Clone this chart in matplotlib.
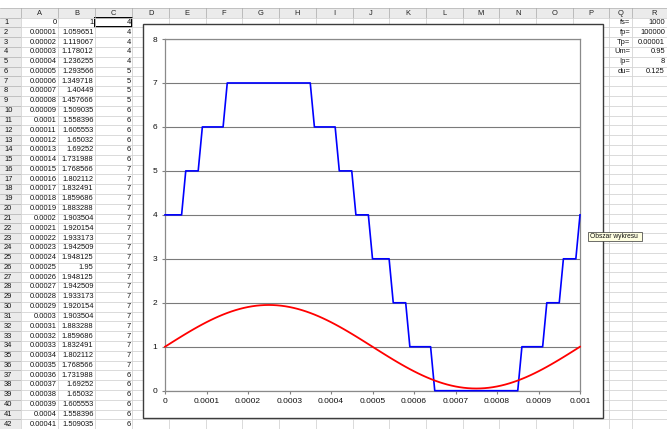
import numpy as np
import matplotlib
matplotlib.use("Agg")
import matplotlib.pyplot as plt
from matplotlib.patches import Rectangle

plt.rcParams['font.family'] = ['Liberation Sans', 'DejaVu Sans']

# column A: time samples, column B: sine signal, column C: quantized level
t = np.round(np.arange(101) * 0.00001, 5)
u = [1, 1.059651, 1.119067, 1.178012, 1.236255, 1.293566, 1.349718, 1.40449, 1.457666, 1.509035,
     1.558396, 1.605553, 1.65032, 1.69252, 1.731988, 1.768566, 1.802112, 1.832491, 1.859686, 1.883288,
     1.903504, 1.920154, 1.933173, 1.942509, 1.948125, 1.95, 1.948125, 1.942509, 1.933173, 1.920154,
     1.903504, 1.883288, 1.859686, 1.832491, 1.802112, 1.768566, 1.731988, 1.69252, 1.65032, 1.605553,
     1.558396, 1.509035, 1.457666, 1.40449, 1.349718, 1.293566, 1.236255, 1.178012, 1.119067, 1.059651,
     1, 0.940349, 0.880933, 0.821988, 0.763745, 0.706434, 0.650282, 0.59551, 0.542334, 0.490965,
     0.441604, 0.394447, 0.34968, 0.30748, 0.268012, 0.231434, 0.197888, 0.167509, 0.140314, 0.116712,
     0.096496, 0.079846, 0.066827, 0.057491, 0.051875, 0.05, 0.051875, 0.057491, 0.066827, 0.079846,
     0.096496, 0.116712, 0.140314, 0.167509, 0.197888, 0.231434, 0.268012, 0.30748, 0.34968, 0.394447,
     0.441604, 0.490965, 0.542334, 0.59551, 0.650282, 0.706434, 0.763745, 0.821988, 0.880933, 0.940349,
     1]
lvl = [4, 4, 4, 4, 4, 5, 5, 5, 5, 6,
       6, 6, 6, 6, 6, 7, 7, 7, 7, 7,
       7, 7, 7, 7, 7, 7, 7, 7, 7, 7,
       7, 7, 7, 7, 7, 7, 6, 6, 6, 6,
       6, 6, 5, 5, 5, 5, 4, 4, 4, 4,
       3, 3, 3, 3, 3, 2, 2, 2, 2, 1,
       1, 1, 1, 1, 1, 0, 0, 0, 0, 0,
       0, 0, 0, 0, 0, 0, 0, 0, 0, 0,
       0, 0, 0, 0, 0, 0, 1, 1, 1, 1,
       1, 1, 2, 2, 2, 2, 3, 3, 3, 3,
       4]
xticks = [0, 0.0001, 0.0002, 0.0003, 0.0004, 0.0005, 0.0006, 0.0007, 0.0008, 0.0009, 0.001]
xlabels = ['0', '0.0001', '0.0002', '0.0003', '0.0004', '0.0005', '0.0006', '0.0007', '0.0008', '0.0009', '0.001']
yticks = [0, 1, 2, 3, 4, 5, 6, 7, 8]
params = ['fs=', 'fp=', 'Tp=', 'Um=', 'Ip=', 'du=']
param_vals = ['1000', '100000', '0.00001', '0.95', '8', '0.125']

W, H = 667, 429
fig = plt.figure(figsize=(W / 100, H / 100), dpi=100)

# ---- spreadsheet background ----
bg = fig.add_axes([0, 0, 1, 1])
bg.set_xlim(0, W)
bg.set_ylim(H, 0)
bg.axis('off')

hdr_top, hdr_bot = 8, 17.5
rh = 9.8
col_edges = [0, 20.7, 58.3, 95, 132.3] + [132.3 + 36.7 * k for k in range(1, 14)] + [631.7, 700]
col_names = ['A', 'B', 'C', 'D', 'E', 'F', 'G', 'H', 'I', 'J', 'K', 'L', 'M', 'N', 'O', 'P', 'Q', 'R']
gridc = '#d4d4d4'
hdrc = '#ebebeb'

bg.add_patch(Rectangle((0, hdr_top), W, hdr_bot - hdr_top, facecolor=hdrc, edgecolor='none'))
bg.add_patch(Rectangle((0, hdr_top), col_edges[1], H, facecolor=hdrc, edgecolor='none'))

for k in range(44):
    y = hdr_bot + k * rh
    bg.plot([0, col_edges[1]], [y, y], color='#b0b0b0', lw=0.5)
    bg.plot([col_edges[1], W], [y, y], color=gridc, lw=0.6)
bg.plot([0, W], [hdr_top, hdr_top], color='#b0b0b0', lw=0.5)
for x in col_edges[1:]:
    bg.plot([x, x], [hdr_top, hdr_bot], color='#a8a8a8', lw=0.5)
    bg.plot([x, x], [hdr_bot, H], color=gridc, lw=0.6)

for i, name in enumerate(col_names):
    x0, x1 = col_edges[i + 1], col_edges[i + 2]
    if name == 'R':
        x1 = W + 10
    bg.text((x0 + x1) / 2, (hdr_top + hdr_bot) / 2 + 0.5, name, ha='center', va='center',
            fontsize=5.4, color='#222222')

for r in range(42):
    yc = hdr_bot + (r + 0.5) * rh
    bg.text(4, yc, str(r + 1), ha='left', va='center', fontsize=5.4, color='#111111')
    bg.text(col_edges[2] - 1.5, yc, f"{t[r]:.5f}".rstrip('0').rstrip('.'), ha='right', va='center',
            fontsize=5.4, color='#111111')
    bg.text(col_edges[3] - 1.5, yc, f"{u[r]:.6f}".rstrip('0').rstrip('.'), ha='right', va='center',
            fontsize=5.4, color='#111111')
    bg.text(col_edges[4] - 1.5, yc, str(lvl[r]), ha='right', va='center', fontsize=5.4, color='#111111')

for r, (p, v) in enumerate(zip(params, param_vals)):
    yc = hdr_bot + (r + 0.5) * rh
    bg.text(col_edges[-2] - 1.5, yc, p, ha='right', va='center', fontsize=5.4, color='#111111')
    bg.text(665, yc, v, ha='right', va='center', fontsize=5.4, color='#111111')

# selected cell C1
bg.add_patch(Rectangle((col_edges[3], hdr_bot), col_edges[4] - col_edges[3], rh,
                       facecolor='none', edgecolor='black', lw=1.4))

# chart object frame
bg.add_patch(Rectangle((142.7, 24), 602.7 - 142.7, 418.3 - 24, facecolor='white',
                       edgecolor='#3c3c3c', lw=1.0, zorder=5))

# ---- chart ----
x0, x1, y0, y1 = 165, 580, 390.7, 39
ax = fig.add_axes([x0 / W, 1 - y0 / H, (x1 - x0) / W, (y0 - y1) / H])
ax.set_facecolor('white')
ax.plot(t, lvl, color='#0000ff', lw=1.2, clip_on=False, zorder=3)
ax.plot(t, u, color='#ff0000', lw=1.3, clip_on=False, zorder=3)
ax.set_xlim(0, 0.001)
ax.set_ylim(0, 8)
ax.set_xticks(xticks)
ax.set_xticklabels(xlabels)
ax.set_yticks(yticks)
ax.grid(axis='y', color='#7a7a7a', lw=0.8)
ax.set_axisbelow(True)
for s in ax.spines.values():
    s.set_color('#8a8a8a')
    s.set_linewidth(0.9)
ax.tick_params(direction='out', length=2.5, width=0.8, color='#808080', labelsize=6,
               labelcolor='#111111', pad=3)

# tooltip
ov = fig.add_axes([0, 0, 1, 1], zorder=10)
ov.set_xlim(0, W)
ov.set_ylim(H, 0)
ov.axis('off')
ov.patch.set_alpha(0)
ov.add_patch(Rectangle((588.3, 232.3), 53.4, 8.6, facecolor='#ffffe1', edgecolor='#333333', lw=0.5))
ov.text(590, 236.8, 'Obszar wykresu', ha='left', va='center', fontsize=4.8, color='#111111')

fig.savefig('out.png', dpi=100)
